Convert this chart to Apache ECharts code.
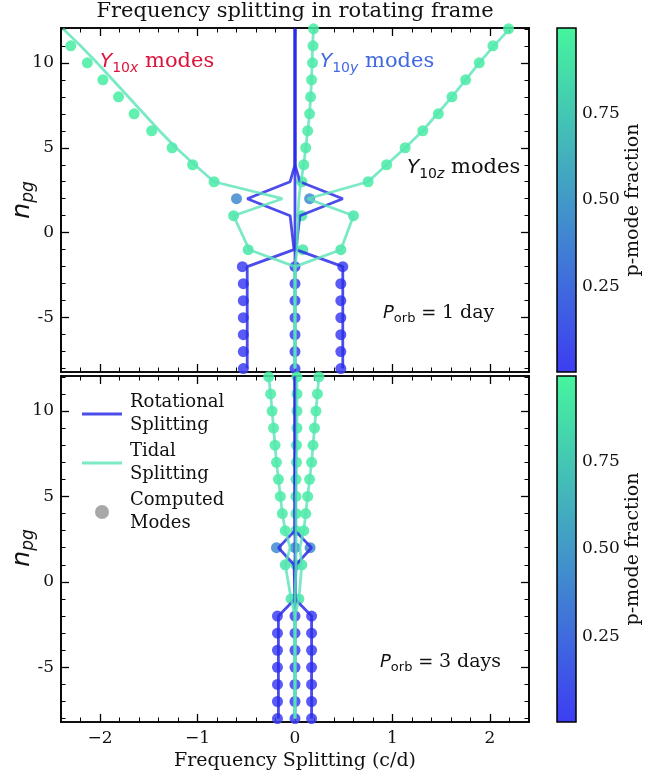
<!DOCTYPE html>
<html>
<head>
<meta charset="utf-8">
<script src="https://cdn.jsdelivr.net/npm/echarts@6/dist/echarts.min.js"></script>
<style>
  html, body { margin: 0; padding: 0; background: #fff; }
  #chart { width: 647px; height: 779px; }
</style>
</head>
<body>
<div id="chart"></div>
<script>
// radial orders n_pg shared by every mode family (there is no n_pg = 0)
const nPg = [-8, -7, -6, -5, -4, -3, -2, -1, 1, 2, 3, 4, 5, 6, 7, 8, 9, 10, 11, 12];

// ---- P_orb = 1 day ----
// computed modes, frequency splitting (c/d)
const modesX1 = [-0.53, -0.53, -0.53, -0.53, -0.53, -0.53, -0.54, -0.48, -0.63, -0.60, -0.83, -1.05, -1.26, -1.47, -1.65, -1.81, -1.97, -2.13, -2.30, -2.46];
const modesY1 = [0.0, 0.0, 0.0, 0.0, 0.0, 0.0, 0.0, 0.08, 0.07, 0.15, 0.07, 0.09, 0.11, 0.13, 0.15, 0.16, 0.17, 0.18, 0.185, 0.19];
const modesZ1 = [0.47, 0.47, 0.47, 0.47, 0.47, 0.47, 0.49, 0.47, 0.60, null, 0.75, 0.94, 1.13, 1.31, 1.47, 1.61, 1.75, 1.89, 2.03, 2.19];
const pFrac1 = [0.01, 0.01, 0.01, 0.01, 0.01, 0.01, 0.02, 0.92, 0.92, 0.42, 0.95, 0.95, 0.95, 0.95, 0.95, 0.95, 0.95, 0.95, 0.95, 0.95];
// tidal splitting
const tideX1 = [0, 0, 0, 0, 0, 0, 0, -0.47, -0.63, -0.13, -0.83, -1.03, -1.22, -1.39, -1.55, -1.71, -1.87, -2.03, -2.2, -2.38];
const tideY1 = [0, 0, 0, 0, 0, 0, 0, 0.02, 0.03, 0.04, 0.06, 0.09, 0.11, 0.13, 0.15, 0.16, 0.17, 0.175, 0.18, 0.19];
const tideZ1 = [0, 0, 0, 0, 0, 0, 0, 0.47, 0.60, 0.13, 0.75, 0.94, 1.13, 1.31, 1.46, 1.61, 1.75, 1.89, 2.04, 2.2];
// rotational splitting (m = -1, 0, +1)
const rotL1 = [-0.49, -0.49, -0.49, -0.49, -0.49, -0.49, -0.49, -0.01, -0.05, -0.49, -0.05, 0, 0, 0, 0, 0, 0, 0, 0, 0];
const rotC1 = [0, 0, 0, 0, 0, 0, 0, 0, 0, 0, 0, 0, 0, 0, 0, 0, 0, 0, 0, 0];
const rotR1 = [0.49, 0.49, 0.49, 0.49, 0.49, 0.49, 0.49, 0.01, 0.05, 0.49, 0.05, 0, 0, 0, 0, 0, 0, 0, 0, 0];

// ---- P_orb = 3 days ----
const modesX3 = [-0.18, -0.18, -0.18, -0.18, -0.18, -0.18, -0.18, -0.04, -0.10, -0.19, -0.10, -0.13, -0.15, -0.17, -0.19, -0.205, -0.22, -0.235, -0.25, -0.27];
const modesY3 = [0.0, 0.0, 0.0, 0.0, 0.0, 0.0, 0.0, 0.0, 0.01, 0.0, 0.01, 0.01, 0.01, 0.01, 0.015, 0.015, 0.02, 0.02, 0.02, 0.02];
const modesZ3 = [0.17, 0.17, 0.17, 0.17, 0.17, 0.17, 0.17, 0.04, 0.07, 0.155, 0.09, 0.11, 0.13, 0.15, 0.17, 0.185, 0.2, 0.215, 0.23, 0.245];
const pFrac3 = [0.01, 0.01, 0.01, 0.01, 0.01, 0.01, 0.02, 0.92, 0.92, 0.42, 0.95, 0.95, 0.95, 0.95, 0.95, 0.95, 0.95, 0.95, 0.95, 0.95];
const tideX3 = [0, 0, 0, 0, 0, 0, 0, -0.04, -0.10, -0.05, -0.10, -0.13, -0.15, -0.17, -0.19, -0.205, -0.22, -0.235, -0.25, -0.27];
const tideY3 = [0, 0, 0, 0, 0, 0, 0, 0, 0.01, 0.01, 0.01, 0.01, 0.01, 0.015, 0.015, 0.02, 0.02, 0.02, 0.02, 0.02];
const tideZ3 = [0, 0, 0, 0, 0, 0, 0, 0.04, 0.07, 0.05, 0.09, 0.11, 0.13, 0.15, 0.17, 0.185, 0.2, 0.215, 0.23, 0.245];
const rotL3 = [-0.17, -0.17, -0.17, -0.17, -0.17, -0.17, -0.17, 0, -0.01, -0.17, 0, 0, 0, 0, 0, 0, 0, 0, 0, 0];
const rotC3 = [0, 0, 0, 0, 0, 0, 0, 0, 0, 0, 0, 0, 0, 0, 0, 0, 0, 0, 0, 0];
const rotR3 = [0.17, 0.17, 0.17, 0.17, 0.17, 0.17, 0.17, 0, 0.01, 0.17, 0, 0, 0, 0, 0, 0, 0, 0, 0, 0];

// ticks
const xMajor = [-2, -1, 0, 1, 2];
const xMinor = [-2.2, -1.8, -1.6, -1.4, -1.2, -0.8, -0.6, -0.4, -0.2, 0.2, 0.4, 0.6, 0.8, 1.2, 1.4, 1.6, 1.8, 2.2];
const yMajor = [-5, 0, 5, 10];
const yMinor = [-8, -7, -6, -4, -3, -2, -1, 1, 2, 3, 4, 6, 7, 8, 9, 11, 12];
const cbTicks = [0.25, 0.5, 0.75];

const xMin = -2.4, xMax = 2.4;
const yMin = -8.2, yMax = 12.05;
const cbMin = 0.005, cbMax = 0.995;

const cmapLow = '#3d3df2';
const cmapHigh = '#46f59e';
const rotColor = 'rgba(45,45,232,0.85)';
const tideColor = 'rgba(90,228,184,0.8)';
const SERIF = 'DejaVu Serif';
const SANS = 'DejaVu Sans';

const fmtX = v => (v < 0 ? '\u2212' + Math.abs(v) : String(v));
const fmtY = v => (v < 0 ? '-' + Math.abs(v) : String(v));

const chart = echarts.init(document.getElementById('chart'));

const tickFont = { fontFamily: SERIF, fontSize: 17, color: '#111' };
const axisLine = { show: true, onZero: false, lineStyle: { color: '#000', width: 1.6 } };

function xAxesFor(g, withLabels) {
    const common = { type: 'value', gridIndex: g, min: xMin, max: xMax, splitLine: { show: false }, axisLine: axisLine };
    const major = { inside: true, length: 8, customValues: xMajor, lineStyle: { color: '#000', width: 1.3 } };
    const minor = { inside: true, length: 4.5, customValues: xMinor, lineStyle: { color: '#000', width: 1 } };
    const main = Object.assign({}, common, {
        position: 'bottom',
        axisTick: major,
        axisLabel: withLabels
            ? Object.assign({ show: true, customValues: xMajor, formatter: fmtX, margin: 8 }, tickFont)
            : { show: false }
    });
    if (withLabels) {
        main.name = 'Frequency Splitting (c/d)';
        main.nameLocation = 'middle';
        main.nameGap = 30;
        main.nameTextStyle = { fontFamily: SERIF, fontSize: 19, color: '#111' };
    }
    return [
        main,
        Object.assign({}, common, { position: 'bottom', axisTick: minor, axisLabel: { show: false } }),
        Object.assign({}, common, { position: 'top', axisTick: major, axisLabel: { show: false } }),
        Object.assign({}, common, { position: 'top', axisTick: minor, axisLabel: { show: false } })
    ];
}

function yAxesFor(g) {
    const common = { type: 'value', gridIndex: g, min: yMin, max: yMax, splitLine: { show: false }, axisLine: axisLine };
    const major = { inside: true, length: 8, customValues: yMajor, lineStyle: { color: '#000', width: 1.3 } };
    const minor = { inside: true, length: 4.5, customValues: yMinor, lineStyle: { color: '#000', width: 1 } };
    return [
        Object.assign({}, common, {
            position: 'left',
            axisTick: major,
            axisLabel: Object.assign({ show: true, customValues: yMajor, formatter: fmtY, margin: 7 }, tickFont)
        }),
        Object.assign({}, common, { position: 'left', axisTick: minor, axisLabel: { show: false } }),
        Object.assign({}, common, { position: 'right', axisTick: major, axisLabel: { show: false } }),
        Object.assign({}, common, { position: 'right', axisTick: minor, axisLabel: { show: false } })
    ];
}

function cbAxes(g) {
    return {
        x: { type: 'value', gridIndex: g, min: 0, max: 1, show: false },
        y: {
            type: 'value', gridIndex: g, min: cbMin, max: cbMax, position: 'right',
            splitLine: { show: false },
            axisLine: { show: false },
            axisTick: { show: true, inside: false, length: 5, customValues: cbTicks, lineStyle: { color: '#000', width: 1.2 } },
            axisLabel: Object.assign({ show: true, customValues: cbTicks, margin: 6, formatter: v => v.toFixed(2) }, tickFont),
            name: 'p-mode fraction',
            nameLocation: 'middle',
            nameRotate: 90,
            nameGap: 47,
            nameTextStyle: { fontFamily: SERIF, fontSize: 19, color: '#111' }
        }
    };
}

function panelSeries(modes, frac, tides, rots, xi, yi) {
    const pts = [];
    modes.forEach(fam => fam.forEach((v, i) => {
        if (v !== null) pts.push([v, nPg[i], frac[i]]);
    }));
    const out = [{
        name: 'Computed Modes', type: 'scatter', xAxisIndex: xi, yAxisIndex: yi,
        data: pts, symbolSize: 11, z: 2, itemStyle: { opacity: 0.85 }
    }];
    rots.forEach(fam => out.push({
        name: 'Rotational Splitting', type: 'line', xAxisIndex: xi, yAxisIndex: yi,
        data: fam.map((v, i) => [v, nPg[i]]), showSymbol: false, z: 3,
        itemStyle: { color: rotColor }, lineStyle: { color: rotColor, width: 2.8 }
    }));
    tides.forEach(fam => out.push({
        name: 'Tidal Splitting', type: 'line', xAxisIndex: xi, yAxisIndex: yi,
        data: fam.map((v, i) => [v, nPg[i]]), showSymbol: false, z: 4,
        itemStyle: { color: tideColor }, lineStyle: { color: tideColor, width: 2.8 }
    }));
    return out;
}

function colorbarSeries(xi, yi) {
    return {
        type: 'custom', xAxisIndex: xi, yAxisIndex: yi, data: [[0.5, 0.5]], silent: true,
        renderItem: (params) => {
            const cs = params.coordSys;
            return {
                type: 'rect',
                shape: { x: cs.x, y: cs.y, width: cs.width, height: cs.height },
                style: {
                    fill: new echarts.graphic.LinearGradient(0, 1, 0, 0, [
                        { offset: 0, color: cmapLow }, { offset: 1, color: cmapHigh }
                    ]),
                    stroke: '#000', lineWidth: 1.5
                }
            };
        }
    };
}

function mathText(x, y, parts, color, size, subSize, rotated) {
    // parts: [[styleKey, text], ...]
    const rich = {
        i: { fontFamily: SANS, fontStyle: 'italic', fontSize: size, lineHeight: size + 6, fill: color },
        r: { fontFamily: SANS, fontSize: size, lineHeight: size + 6, fill: color },
        sd: { fontFamily: SANS, fontSize: subSize, lineHeight: subSize + 1, verticalAlign: 'bottom', fill: color },
        si: { fontFamily: SANS, fontStyle: 'italic', fontSize: subSize, lineHeight: subSize + 1, verticalAlign: 'bottom', fill: color },
        t: { fontFamily: SERIF, fontSize: size + 1, lineHeight: size + 6, fill: color }
    };
    return {
        type: 'text', x: x, y: y, z: 20, rotation: rotated ? Math.PI / 2 : 0,
        style: {
            text: parts.map(p => '{' + p[0] + '|' + p[1] + '}').join(''),
            rich: rich, align: rotated ? 'center' : 'left', verticalAlign: 'middle'
        }
    };
}

const ax0 = xAxesFor(0, false), ax1 = xAxesFor(1, true);
const ay0 = yAxesFor(0), ay1 = yAxesFor(1);
const cb2 = cbAxes(2), cb3 = cbAxes(3);

const series = [].concat(
    panelSeries([modesX1, modesY1, modesZ1], pFrac1, [tideX1, tideY1, tideZ1], [rotL1, rotC1, rotR1], 0, 0),
    panelSeries([modesX3, modesY3, modesZ3], pFrac3, [tideX3, tideY3, tideZ3], [rotL3, rotC3, rotR3], 4, 4),
    [colorbarSeries(8, 8), colorbarSeries(9, 9)]
);
const scatterIdx = series.map((s, i) => (s.type === 'scatter' ? i : -1)).filter(i => i >= 0);

const linePath = 'path://M0,0H40V3H0Z';

chart.setOption({
    animation: false,
    backgroundColor: '#fff',
    title: {
        text: 'Frequency splitting in rotating frame',
        left: 295, top: 1, textAlign: 'center', padding: 0,
        textStyle: { fontFamily: SERIF, fontSize: 21, fontWeight: 'normal', color: '#111' }
    },
    grid: [
        { left: 61, top: 28, width: 468, height: 344, outerBoundsMode: 'none' },
        { left: 61, top: 376, width: 468, height: 346, outerBoundsMode: 'none' },
        { left: 557, top: 28, width: 19, height: 344, outerBoundsMode: 'none' },
        { left: 557, top: 376, width: 19, height: 346, outerBoundsMode: 'none' }
    ],
    xAxis: [].concat(ax0, ax1, [cb2.x, cb3.x]),
    yAxis: [].concat(ay0, ay1, [cb2.y, cb3.y]),
    visualMap: {
        type: 'continuous', show: false, min: cbMin, max: cbMax, dimension: 2,
        seriesIndex: scatterIdx, inRange: { color: [cmapLow, cmapHigh] }
    },
    legend: {
        orient: 'vertical', left: 77, top: 386, itemWidth: 40, itemHeight: 14, itemGap: 3,
        selectedMode: false,
        formatter: name => name.replace(' ', '\n'),
        textStyle: { fontFamily: SERIF, fontSize: 18, lineHeight: 23, color: '#111', padding: [0, 0, 0, 3] },
        data: [
            { name: 'Rotational Splitting', icon: linePath, itemStyle: { color: rotColor } },
            { name: 'Tidal Splitting', icon: linePath, itemStyle: { color: tideColor } },
            { name: 'Computed Modes', icon: 'circle', itemStyle: { color: '#999999' } }
        ]
    },
    graphic: [
        mathText(100, 62, [['i', 'Y'], ['sd', '10'], ['si', 'x'], ['t', ' modes']], '#dc143c', 20, 14),
        mathText(320, 62, [['i', 'Y'], ['sd', '10'], ['si', 'y'], ['t', ' modes']], '#4169e1', 20, 14),
        mathText(407, 168, [['i', 'Y'], ['sd', '10'], ['si', 'z'], ['t', ' modes']], '#111', 20, 14),
        mathText(383, 313, [['i', 'P'], ['sd', 'orb'], ['r', ' = '], ['t', '1 day']], '#111', 18, 13),
        mathText(380, 662, [['i', 'P'], ['sd', 'orb'], ['r', ' = '], ['t', '3 days']], '#111', 18, 13),
        mathText(22, 200, [['i', 'n'], ['si', 'pg']], '#111', 25, 17, true),
        mathText(22, 548, [['i', 'n'], ['si', 'pg']], '#111', 25, 17, true)
    ],
    series: series
});
</script>
</body>
</html>
